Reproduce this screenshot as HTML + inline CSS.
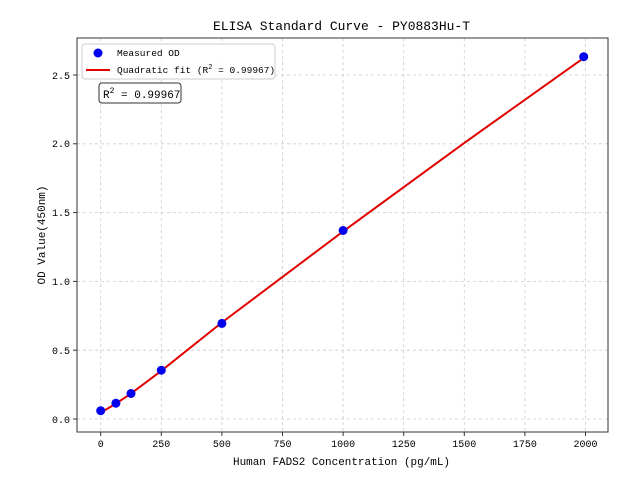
<!DOCTYPE html>
<html><head><meta charset="utf-8"><style>
body{margin:0;background:#fff}
svg{display:block}
text{font-family:"Liberation Mono",monospace;fill:#000}
</style></head><body>
<svg width="640" height="480" viewBox="0 0 640 480" xmlns="http://www.w3.org/2000/svg">
<rect width="640" height="480" fill="#fff"/>
<g stroke="#ccc" stroke-width="0.8" stroke-dasharray="3,3">
<line x1="100.7" y1="38" x2="100.7" y2="432"/>
<line x1="161.3" y1="38" x2="161.3" y2="432"/>
<line x1="221.9" y1="38" x2="221.9" y2="432"/>
<line x1="282.5" y1="38" x2="282.5" y2="432"/>
<line x1="343.1" y1="38" x2="343.1" y2="432"/>
<line x1="403.7" y1="38" x2="403.7" y2="432"/>
<line x1="464.3" y1="38" x2="464.3" y2="432"/>
<line x1="524.9" y1="38" x2="524.9" y2="432"/>
<line x1="585.5" y1="38" x2="585.5" y2="432"/>
<line x1="77" y1="419" x2="608" y2="419"/>
<line x1="77" y1="350.2" x2="608" y2="350.2"/>
<line x1="77" y1="281.4" x2="608" y2="281.4"/>
<line x1="77" y1="212.6" x2="608" y2="212.6"/>
<line x1="77" y1="143.8" x2="608" y2="143.8"/>
<line x1="77" y1="75" x2="608" y2="75"/>
</g>
<polyline fill="none" stroke="#e00000" stroke-width="2" points="100.7,412.7 115.9,403.6 131,393.6 161.3,370.8 221.9,322.5 343.1,231.4 464.3,142.9 585.5,56.7"/>
<g fill="#0000ee">
<circle cx="100.7" cy="410.7" r="4.5"/>
<circle cx="115.9" cy="403.2" r="4.5"/>
<circle cx="131" cy="393.5" r="4.5"/>
<circle cx="161.3" cy="370.2" r="4.5"/>
<circle cx="221.9" cy="323.4" r="4.5"/>
<circle cx="343.1" cy="230.5" r="4.5"/>
<circle cx="583.7" cy="56.7" r="4.5"/>
</g>
<rect x="77" y="38" width="531" height="394" fill="none" stroke="#333" stroke-width="1"/>
<g stroke="#333">
<line x1="100.7" y1="432" x2="100.7" y2="436"/><line x1="161.3" y1="432" x2="161.3" y2="436"/><line x1="221.9" y1="432" x2="221.9" y2="436"/><line x1="282.5" y1="432" x2="282.5" y2="436"/><line x1="343.1" y1="432" x2="343.1" y2="436"/><line x1="403.7" y1="432" x2="403.7" y2="436"/><line x1="464.3" y1="432" x2="464.3" y2="436"/><line x1="524.9" y1="432" x2="524.9" y2="436"/><line x1="585.5" y1="432" x2="585.5" y2="436"/>
<line x1="73" y1="419" x2="77" y2="419"/><line x1="73" y1="350.2" x2="77" y2="350.2"/><line x1="73" y1="281.4" x2="77" y2="281.4"/><line x1="73" y1="212.6" x2="77" y2="212.6"/><line x1="73" y1="143.8" x2="77" y2="143.8"/><line x1="73" y1="75" x2="77" y2="75"/>
</g>
<g font-size="10" text-anchor="middle">
<text x="100.7" y="447">0</text><text x="161.3" y="447">250</text><text x="221.9" y="447">500</text><text x="282.5" y="447">750</text><text x="343.1" y="447">1000</text><text x="403.7" y="447">1250</text><text x="464.3" y="447">1500</text><text x="524.9" y="447">1750</text><text x="585.5" y="447">2000</text>
</g>
<g font-size="10" text-anchor="end">
<text x="70" y="423">0.0</text><text x="70" y="354">0.5</text><text x="70" y="285">1.0</text><text x="70" y="216">1.5</text><text x="70" y="147">2.0</text><text x="70" y="79">2.5</text>
</g>
<text x="233" y="465" font-size="11" textLength="217" lengthAdjust="spacingAndGlyphs">Human FADS2 Concentration (pg/mL)</text>
<text transform="translate(45,235) rotate(-90)" font-size="11" text-anchor="middle">OD Value(450nm)</text>
<text x="213" y="30" font-size="13" textLength="257" lengthAdjust="spacingAndGlyphs">ELISA Standard Curve - PY0883Hu-T</text>
<rect x="82" y="44" width="193" height="35" rx="3" fill="#fff" fill-opacity="0.85" stroke="#ccc"/>
<circle cx="98" cy="53" r="4.5" fill="#0000ee"/>
<text x="117" y="56" font-size="9.5">Measured OD</text>
<line x1="86" y1="70" x2="110" y2="70" stroke="#e00000" stroke-width="2"/>
<text x="117" y="73" font-size="9.5">Quadratic fit (R<tspan font-size="7" dy="-4">2</tspan><tspan dy="4"> = 0.99967)</tspan></text>
<rect x="99" y="83" width="82" height="20" rx="3" fill="#fff" stroke="#333"/>
<text x="103" y="98" font-size="11">R<tspan font-size="8" dy="-5">2</tspan><tspan dy="5"> = 0.99967</tspan></text>
</svg>
</body></html>
